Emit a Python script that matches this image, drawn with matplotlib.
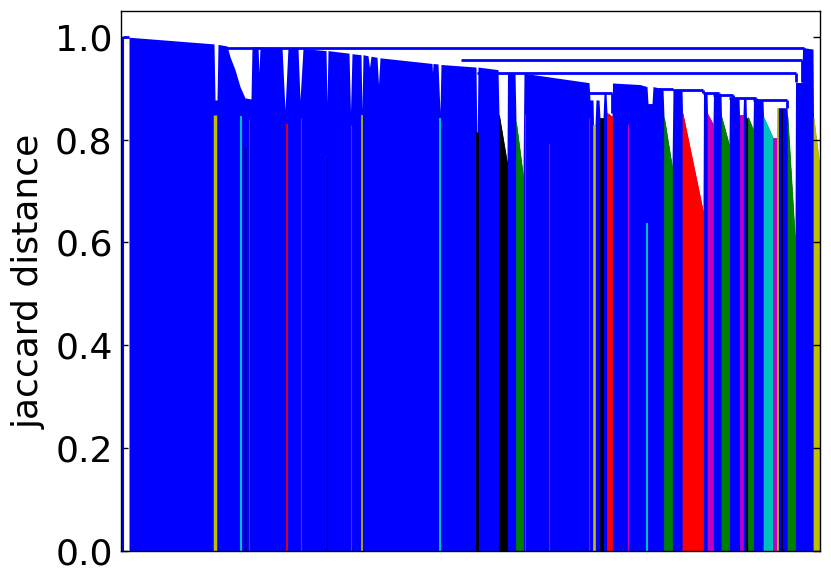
import matplotlib
matplotlib.use("Agg")
import matplotlib.pyplot as plt

# leaf axis runs 0..699 (one unit ~ one pixel of the original), heights are jaccard distances
X_MAX = 699

# top edge of the big blue mass left to right
blue_x = [8, 8, 93, 94, 96, 97, 106, 109, 114, 119, 124, 130, 131, 137, 138, 139,
          161, 164, 167, 177, 179, 182, 205, 206, 207, 228, 229.5, 231, 240, 241, 242,
          247, 248.5, 250, 256, 257.5, 259, 311, 311.5, 312, 317, 319, 320,
          355, 356, 357, 377, 378, 386, 386.5, 394, 395, 402, 403, 406,
          467, 468, 469, 472, 472.5, 474, 475, 478, 479, 482, 483, 485, 486, 491, 491.5,
          519, 526, 527, 531, 532, 542, 543, 551, 552, 561, 561.5, 582, 582.5,
          586, 586.5, 592, 592.5, 600, 600.5, 608, 608.5, 618, 618.5, 622, 622.5,
          625, 625.5, 632, 632.5, 642, 642.5, 652, 656, 656.5, 666, 666.5, 674, 674.5,
          681, 681.5, 692, 692.5, 699, 699]
blue_h = [0.0, 0.999, 0.986, 0.877, 0.877, 0.985, 0.982, 0.961, 0.936, 0.903, 0.881, 0.879, 0.980, 0.980, 0.930, 0.980,
          0.979, 0.858, 0.979, 0.978, 0.877, 0.977, 0.973, 0.872, 0.973, 0.968, 0.854, 0.967, 0.965, 0.858, 0.965,
          0.963, 0.940, 0.962, 0.960, 0.907, 0.959, 0.948, 0.930, 0.948, 0.947, 0.854, 0.946,
          0.941, 0.780, 0.941, 0.936, 0.848, 0.755, 0.930, 0.930, 0.835, 0.730, 0.930, 0.928,
          0.911, 0.911, 0.877, 0.877, 0.829, 0.829, 0.877, 0.877, 0.842, 0.842, 0.890, 0.890, 0.852, 0.845, 0.910,
          0.907, 0.903, 0.870, 0.870, 0.903, 0.899, 0.844, 0.747, 0.897, 0.897, 0.852, 0.660, 0.891,
          0.891, 0.850, 0.830, 0.887, 0.887, 0.844, 0.790, 0.881, 0.881, 0.848, 0.848, 0.880,
          0.880, 0.842, 0.820, 0.877, 0.877, 0.844, 0.803, 0.803, 0.862, 0.862, 0.844, 0.605, 0.911,
          0.911, 0.979, 0.976, 0.844, 0.741, 0.0]

# coloured clusters: start, end, height at start, height at end
grp_color = ['k', 'g', 'y', 'k', 'r', 'g', 'r', 'm', 'g', 'm', 'k', 'g', 'c', 'm', 'y', 'g', 'y']
grp_x0 = [378, 395, 472, 479, 486, 543, 561.5, 586.5, 600.5, 618.5, 625, 627, 642.5, 652, 656, 666.5, 692.5]
grp_x1 = [386, 402, 474, 482, 491, 551, 582, 592, 608, 622, 627, 632, 652, 656, 657, 674, 699]
grp_h0 = [0.848, 0.835, 0.829, 0.842, 0.852, 0.844, 0.852, 0.850, 0.844, 0.848, 0.842, 0.844, 0.844, 0.803, 0.862, 0.844, 0.844]
grp_h1 = [0.755, 0.730, 0.829, 0.842, 0.845, 0.747, 0.660, 0.830, 0.790, 0.848, 0.842, 0.820, 0.803, 0.803, 0.862, 0.605, 0.741]

# single thin coloured leaves sitting inside the blue mass
leaf_x = [94, 120, 124, 128, 166, 180, 206, 230, 241, 319, 356, 404, 428, 468, 507, 526, 661]
leaf_h = [0.848, 0.845, 0.786, 0.840, 0.830, 0.842, 0.765, 0.829, 0.848, 0.842, 0.815, 0.850, 0.794, 0.842, 0.830, 0.638, 0.860]
leaf_c = ['y', 'c', 'k', 'm', 'r', 'm', 'k', 'm', 'y', 'c', 'k', 'm', 'r', 'r', 'm', 'c', 'k']
leaf_w = [2.5, 1.5, 1.0, 0.8, 1.2, 0.8, 0.8, 0.8, 1.2, 1.5, 2.0, 0.8, 0.8, 0.8, 0.8, 1.5, 1.2]

# upper links of the tree: height, left, right, height the right end drops to
link_h = [0.999, 0.979, 0.955, 0.930, 0.897, 0.891, 0.887, 0.881, 0.877, 0.899, 0.890]
link_x0 = [2, 100, 340, 356, 552, 582, 592, 608, 632, 537, 467]
link_x1 = [8, 683, 681, 675, 582, 598, 612, 635, 666, 552, 491]
link_drop = [0.999, 0.955, 0.911, 0.911, 0.891, 0.887, 0.881, 0.877, 0.862, 0.897, 0.852]

fig = plt.figure(figsize=(8.31, 5.81), dpi=100)
ax = fig.add_axes([121 / 831, 30 / 581, 699 / 831, 540 / 581])

ax.fill_between(blue_x, 0, blue_h, color='b', lw=0)
ax.vlines(2, 0, 0.999, color='b', lw=1.5)
for c, x0, x1, h0, h1 in zip(grp_color, grp_x0, grp_x1, grp_h0, grp_h1):
    ax.fill_between([x0, x1], 0, [h0, h1], color=c, lw=0.5, edgecolor=c)
for x, h, c, w in zip(leaf_x, leaf_h, leaf_c, leaf_w):
    ax.vlines(x, 0, h, color=c, lw=w)
for h, x0, x1, d in zip(link_h, link_x0, link_x1, link_drop):
    ax.hlines(h, x0, x1, color='b', lw=2)
    ax.vlines(x1, d, h, color='b', lw=2)

ax.set_xlim(0, X_MAX)
ax.set_ylim(0, 1.05)
ax.set_xticks([])
ax.set_yticks([0.0, 0.2, 0.4, 0.6, 0.8, 1.0])
ax.set_yticklabels(['0.0', '0.2', '0.4', '0.6', '0.8', '1.0'])
ax.tick_params(axis='y', direction='in', length=5, width=1, right=True,
               labelsize=26, pad=6)
ax.set_ylabel('jaccard distance', fontsize=26, labelpad=7)
for s in ax.spines.values():
    s.set_linewidth(1.0)

fig.savefig('out.png', dpi=100)
